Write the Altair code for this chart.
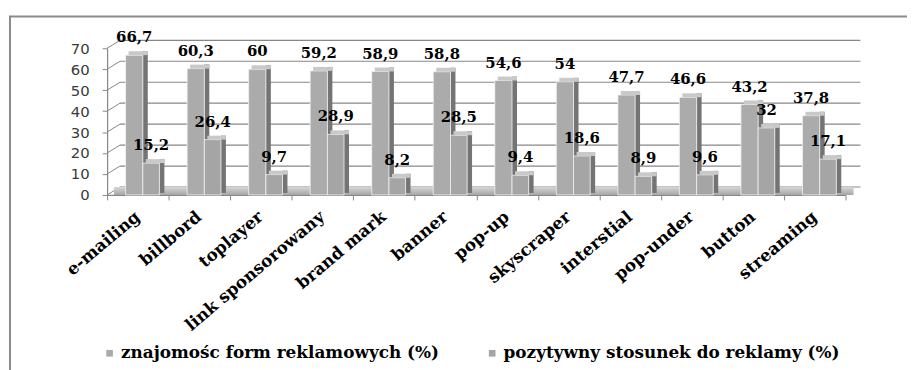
import altair as alt
import pandas as pd

categories = ["e-mailing", "billbord", "toplayer", "link sponsorowany", "brand mark",
              "banner", "pop-up", "skyscraper", "interstial", "pop-under", "button", "streaming"]
series_names = ["znajomośc form reklamowych (%)", "pozytywny stosunek do reklamy (%)"]
awareness = [66.7, 60.3, 60, 59.2, 58.9, 58.8, 54.6, 54, 47.7, 46.6, 43.2, 37.8]
positive = [15.2, 26.4, 9.7, 28.9, 8.2, 28.5, 9.4, 18.6, 8.9, 9.6, 32, 17.1]
y_ticks = [0, 10, 20, 30, 40, 50, 60, 70]
x_ticks = list(range(len(categories) + 1))

rows = []
for i, c in enumerate(categories):
    rows.append(dict(category=c, idx=i, series=series_names[0], s=0, value=awareness[i]))
    rows.append(dict(category=c, idx=i, series=series_names[1], s=1, value=positive[i]))
bars = pd.DataFrame(rows)
cats = pd.DataFrame({"category": categories, "idx": list(range(len(categories)))})
ticks = pd.DataFrame({"tick": y_ticks})
one = pd.DataFrame({"k": [0]})

X = alt.Scale(domain=[0, 12], nice=False, zero=False)
Y = alt.Scale(domain=[0, 70], nice=False)
GRAY = "#878787"
SERIF = "DejaVu Serif"

XAX = alt.Axis(values=x_ticks, labels=False, ticks=True, tickSize=5, grid=False, title=None,
               domainColor=GRAY, tickColor=GRAY, domainWidth=1.2)
YAX = alt.Axis(values=y_ticks, grid=False, tickSize=5, title=None,
               labelFont="DejaVu Sans", labelFontSize=15, labelColor="#3a3a3a", labelPadding=13,
               domainColor=GRAY, tickColor=GRAY, domainWidth=1.2)

bar_base = alt.Chart(bars).transform_calculate(
    x0="datum.idx + (datum.s == 0 ? 0.30 : 0.58)",
    x1="datum.idx + (datum.s == 0 ? 0.58 : 0.85)",
    xc="datum.idx + (datum.s == 0 ? 0.44 : 0.715)",
    label="replace(toString(datum.value), '.', ',')",
)

frame = alt.Chart(one).mark_rect(fillOpacity=0, stroke="#8a8a8a", strokeWidth=2).encode(
    x=alt.value(-98), x2=alt.value(850), y=alt.value(-32), y2=alt.value(380)
)

gridlines = alt.Chart(ticks).mark_rule(
    color=GRAY, strokeWidth=1.2, xOffset=13, x2Offset=15, yOffset=-8
).encode(
    x=alt.XDatum(0, scale=X, axis=XAX),
    x2=alt.X2Datum(12),
    y=alt.Y("tick:Q", scale=Y, axis=YAX),
)

diag = alt.Chart(ticks).mark_rule(color=GRAY, strokeWidth=1, x2Offset=13, y2Offset=-8).encode(
    x=alt.XDatum(0, scale=X, axis=XAX),
    x2=alt.X2Datum(0),
    y=alt.Y("tick:Q", scale=Y, axis=YAX),
    y2=alt.Y2("tick:Q"),
)

floor = alt.Chart(one).mark_rect(
    color=alt.Gradient(gradient="linear", x1=0, x2=0, y1=0, y2=1,
                       stops=[alt.GradientStop(color="#d6d6d6", offset=0),
                              alt.GradientStop(color="#a6a6a6", offset=1)]),
    xOffset=7, x2Offset=8, yOffset=-8,
).encode(
    x=alt.XDatum(0, scale=X, axis=XAX),
    x2=alt.X2Datum(12),
    y=alt.YDatum(0, scale=Y, axis=YAX),
    y2=alt.Y2Datum(0),
)

sides = bar_base.mark_rect(color="#747474", x2Offset=5, yOffset=-4, y2Offset=-2).encode(
    x=alt.X("x1:Q", scale=X, axis=XAX),
    x2="x1:Q",
    y=alt.Y("value:Q", scale=Y, axis=YAX),
    y2=alt.Y2Datum(0),
)

fronts = bar_base.mark_rect(stroke="#f2f2f2", strokeWidth=0.8).encode(
    x=alt.X("x0:Q", scale=X, axis=XAX),
    x2="x1:Q",
    y=alt.Y("value:Q", scale=Y, axis=YAX),
    y2=alt.Y2Datum(0),
    color=alt.Color("series:N",
                    scale=alt.Scale(domain=series_names, range=["#ababab", "#a5a5a5"]),
                    legend=alt.Legend(orient="none", legendX=-6, legendY=299, direction="horizontal",
                                      title=None, symbolType="square", symbolSize=45,
                                      symbolStrokeWidth=0, labelFont=SERIF, labelFontWeight="bold",
                                      labelFontSize=17, labelColor="black", columnPadding=45,
                                      labelOffset=3, labelLimit=600)),
)

tops = bar_base.mark_rect(color="#c9c9c9", xOffset=3, x2Offset=5, yOffset=-4).encode(
    x=alt.X("x0:Q", scale=X, axis=XAX),
    x2="x1:Q",
    y=alt.Y("value:Q", scale=Y, axis=YAX),
    y2="value:Q",
)

labels = bar_base.mark_text(font=SERIF, fontWeight="bold", fontSize=15, color="black",
                            baseline="alphabetic", dy=-13).encode(
    x=alt.X("xc:Q", scale=X, axis=XAX),
    y=alt.Y("value:Q", scale=Y, axis=YAX),
    text="label:N",
)

cat_labels = alt.Chart(cats).transform_calculate(xc="datum.idx + 0.5").mark_text(
    angle=320, align="right", baseline="middle", font=SERIF, fontWeight="bold",
    fontSize=17, color="black", xOffset=0, yOffset=20,
).encode(
    x=alt.X("xc:Q", scale=X, axis=XAX),
    y=alt.YDatum(0, scale=Y, axis=YAX),
    text="category:N",
)

chart = alt.layer(
    frame, gridlines, diag, floor, sides, fronts, tops, labels, cat_labels,
).properties(
    width=745, height=148,
    autosize=alt.AutoSizeParams(type="none"),
    padding={"left": 100, "top": 39, "right": 62, "bottom": 175},
).configure_view(strokeWidth=0)

chart.save("out.html", embed_options={"renderer": "svg", "actions": False})
